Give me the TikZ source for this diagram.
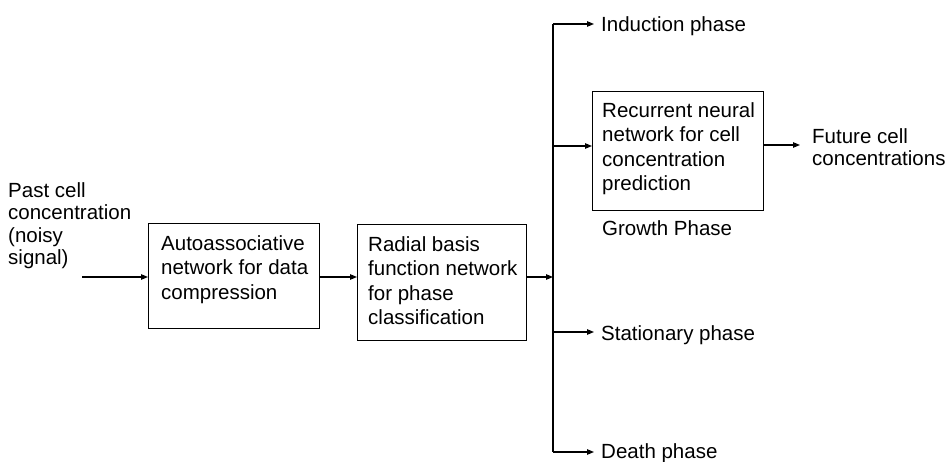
\documentclass[tikz,border=0pt]{standalone}
\usepackage{fontspec}
\setmainfont{Liberation Sans}
\usetikzlibrary{arrows.meta,calc}
\begin{document}
\begin{tikzpicture}[x=1pt,y=-1pt,
  box/.style={draw,line width=1.1pt,inner sep=0pt,anchor=north west},
  txt/.style={inner sep=0pt,anchor=north west,align=left,font=\fontsize{20.5}{24.5}\selectfont},
  otxt/.style={inner sep=0pt,align=left,font=\fontsize{20.5}{22.5}\selectfont},
  phase/.style={inner xsep=7pt,inner ysep=0pt,anchor=base west,font=\fontsize{20.5}{24}\selectfont},
  arr/.style={line width=1.1pt,-{Triangle[length=7pt,width=5.5pt]}},
  ln/.style={line width=1.1pt}]
\useasboundingbox (0,0) rectangle (949,462);
% input text
\node[otxt,anchor=north west] (past) at (8,182) {Past cell\\concentration\\(noisy\\signal)};
\coordinate (inS) at (82,277);
% boxes
\node[box,minimum width=171pt,minimum height=105pt] (b1) at (148,223) {};
\node[txt] (t1) at (161,235) {Autoassociative\\network for data\\compression};
\node[box,minimum width=169pt,minimum height=116pt] (b2) at (357,224) {};
\node[txt] (t2) at (368,236) {Radial basis\\function network\\for phase\\classification};
\node[box,minimum width=171pt,minimum height=119pt] (b3) at (592,91) {};
\node[txt] (t3) at (602,102) {Recurrent neural\\network for cell\\concentration\\prediction};
\node[phase,inner xsep=0pt] (growth) at (602,235) {Growth Phase};
% vertical distribution line
\coordinate (vtop) at (553,24);
\coordinate (vbot) at (553,452);
\coordinate (vgrow) at (553,146);
\coordinate (vstat) at (553,332);
\draw[ln] (vtop) -- (vbot);
% phase labels
\node[phase] (ind) at (594,32) {Induction phase};
\node[phase] (stat) at (594,340) {Stationary phase};
\node[phase] (death) at (594,458) {Death phase};
\node[otxt,anchor=north west,inner xsep=0pt] (fut) at (812,128) {Future cell\\concentrations};
\coordinate (futtip) at (800,145);
% connectors
\draw[arr] (inS) -- (inS -| b1.west);
\draw[arr] (b1.east |- inS) -- (b2.west |- inS);
\draw[arr] (b2.east |- inS) -- (vbot |- inS);
\draw[arr] (vtop) -- (vtop -| ind.west);
\draw[arr] (vgrow) -- (vgrow -| b3.west);
\draw[arr] (vstat) -- (vstat -| stat.west);
\draw[arr] (vbot) -- (vbot -| death.west);
\draw[arr] (b3.east |- futtip) -- (futtip);
\end{tikzpicture}
\end{document}
